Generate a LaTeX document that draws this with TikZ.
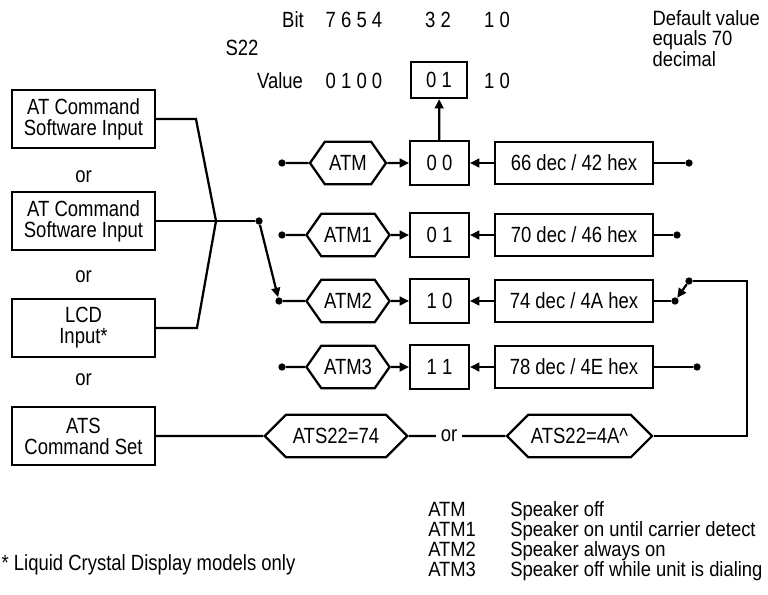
\documentclass[tikz,border=0pt]{standalone}
\usepackage{fontspec}
\setmainfont{Liberation Sans}[FakeStretch=0.84]
\newfontfamily\legendfont{Liberation Sans}[FakeStretch=0.89]
\usepackage{tikz}
\usetikzlibrary{shapes.geometric, shapes.symbols, arrows.meta, positioning, calc}
\tikzset{
    font=\fontsize{16.5}{15.75}\selectfont,
    >={Triangle[length=7pt, width=6.5pt]},
    % Shapes
    box/.style={rectangle, draw, line width=1.7pt, align=center, inner sep=2pt},
    inbox/.style={box, minimum width=107pt, minimum height=43pt},
    bitbox/.style={box, minimum width=44pt, minimum height=33pt},
    valbox/.style={box, minimum width=118.5pt, minimum height=32pt},
    hexa/.style={signal, signal to=west and east, draw, line width=1.7pt,
                 minimum height=32pt, inner sep=2pt},
    atmhex/.style={hexa, minimum width=57pt, signal pointer angle=110},
    atshex/.style={hexa, minimum width=107pt, signal pointer angle=90},
    dot/.style={circle, fill, inner sep=0pt, minimum size=5.5pt},
    % Lines & Labels
    wire/.style={line width=1.7pt},
    lbl/.style={inner sep=1pt},
    legend/.style={inner sep=0pt, anchor=base west, font=\legendfont\fontsize{15.5}{15}\selectfont}
}
\begin{document}
\begin{tikzpicture}[x=0.75pt, y=-0.75pt]
\useasboundingbox (0,0) rectangle (768,594);

% input sources
\node[inbox] (swin1) at (83.5,119) {AT Command\\Software Input};
\node[lbl] (or1) at (83.5,177) {or};
\node[inbox] (swin2) at (83.5,221) {AT Command\\Software Input};
\node[lbl] (or2) at (83.5,277) {or};
\node[inbox] (lcdin) at (83.5,328) {LCD\\Input*};
\node[lbl] (or3) at (83.5,380) {or};
\node[inbox] (atsin) at (83.5,436) {ATS\\Command Set};

% register S22
\node[lbl] (bitlbl) at (293,20) {Bit};
\node[lbl] (bithi) at (354,20) {7 6 5 4};
\node[lbl] (bitmid) at (438,20) {3 2};
\node[lbl] (bitlo) at (497,20) {1 0};
\node[lbl] (sreg) at (242,48) {S22};
\node[lbl] (vallbl) at (280,81) {Value};
\node[lbl] (valhi) at (354,81) {0 1 0 0};
\node[bitbox, minimum width=42pt, minimum height=27pt] (valmid) at (439,80) {0 1};
\node[lbl] (vallo) at (497,81) {1 0};
\node[lbl, align=left, anchor=north west, font=\legendfont\fontsize{15.5}{15.2}\selectfont]
    (dflt) at (651,9) {Default value\\equals 70\\decimal};

% ATM rows
\node[dot] (d0) at (282,163) {};
\node[atmhex] (atm0) at (348,163) {ATM};
\node[bitbox] (b0) at (439.5,163) {0 0};
\node[valbox] (v0) at (574,163) {66 dec / 42 hex};
\node[dot] (e0) at (689,163) {};

\node[dot] (d1) at (282,235) {};
\node[atmhex] (atm1) at (348,235) {ATM1};
\node[bitbox] (b1) at (439.5,235) {0 1};
\node[valbox] (v1) at (574,235) {70 dec / 46 hex};
\node[dot] (e1) at (677,235) {};

\node[dot] (d2) at (279,301) {};
\node[atmhex] (atm2) at (348,301) {ATM2};
\node[bitbox] (b2) at (439.5,301) {1 0};
\node[valbox] (v2) at (574,301) {74 dec / 4A hex};
\node[dot] (e2) at (675,301) {};
\node[dot] (sw) at (689,281) {};
\coordinate (loop) at (747,281);

\node[dot] (d3) at (282,367) {};
\node[atmhex] (atm3) at (348,367) {ATM3};
\node[bitbox] (b3) at (439.5,367) {1 1};
\node[valbox] (v3) at (574,367) {78 dec / 4E hex};
\node[dot] (e3) at (697,367) {};

% ATS row
\node[atshex] (ats1) at (336,436) {ATS22=74};
\node[lbl, inner sep=3.5pt] (orats) at (449,436) {or};
\node[atshex] (ats2) at (579.5,436) {ATS22=4A\textasciicircum};

% selector
\coordinate (junc) at (216,221);
\node[dot] (jdot) at (259,221) {};
\draw[wire] (swin1.east) -- ++(40,0) -- (junc);
\draw[wire] (lcdin.east) -- ++(41,0) -- (junc);
\draw[wire] (swin2) -- (jdot);
\draw[wire, ->] (jdot) -- (d2);

\draw[wire] (d0) -- (atm0);
\draw[wire, ->] (atm0) -- (b0);
\draw[wire, ->] (v0) -- (b0);
\draw[wire] (v0) -- (e0);
\draw[wire, ->] (b0) -- (valmid);

\draw[wire] (d1) -- (atm1);
\draw[wire, ->] (atm1) -- (b1);
\draw[wire, ->] (v1) -- (b1);
\draw[wire] (v1) -- (e1);

\draw[wire] (d2) -- (atm2);
\draw[wire, ->] (atm2) -- (b2);
\draw[wire, ->] (v2) -- (b2);
\draw[wire] (v2) -- (e2);
\draw[wire, ->] (sw) -- (e2);

\draw[wire] (d3) -- (atm3);
\draw[wire, ->] (atm3) -- (b3);
\draw[wire, ->] (v3) -- (b3);
\draw[wire] (v3) -- (e3);

\draw[wire] (atsin) -- (ats1);
\draw[wire] (ats1) -- (orats);
\draw[wire] (orats) -- (ats2);
\draw[wire] (sw) -- (loop) |- (ats2.east);

% legend
\foreach \nm/\txt [count=\i] in {ATM/Speaker off, ATM1/Speaker on until carrier detect,
    ATM2/Speaker always on, ATM3/Speaker off while unit is dialing} {
  \node[legend] (lgname\i) at (428,496.5+20*\i) {\nm};
  \node[legend] (lgtext\i) at (510,496.5+20*\i) {\txt};
}
\node[lbl, anchor=base west] (fnote) at (0,570) {* Liquid Crystal Display models only};

\end{tikzpicture}
\end{document}
